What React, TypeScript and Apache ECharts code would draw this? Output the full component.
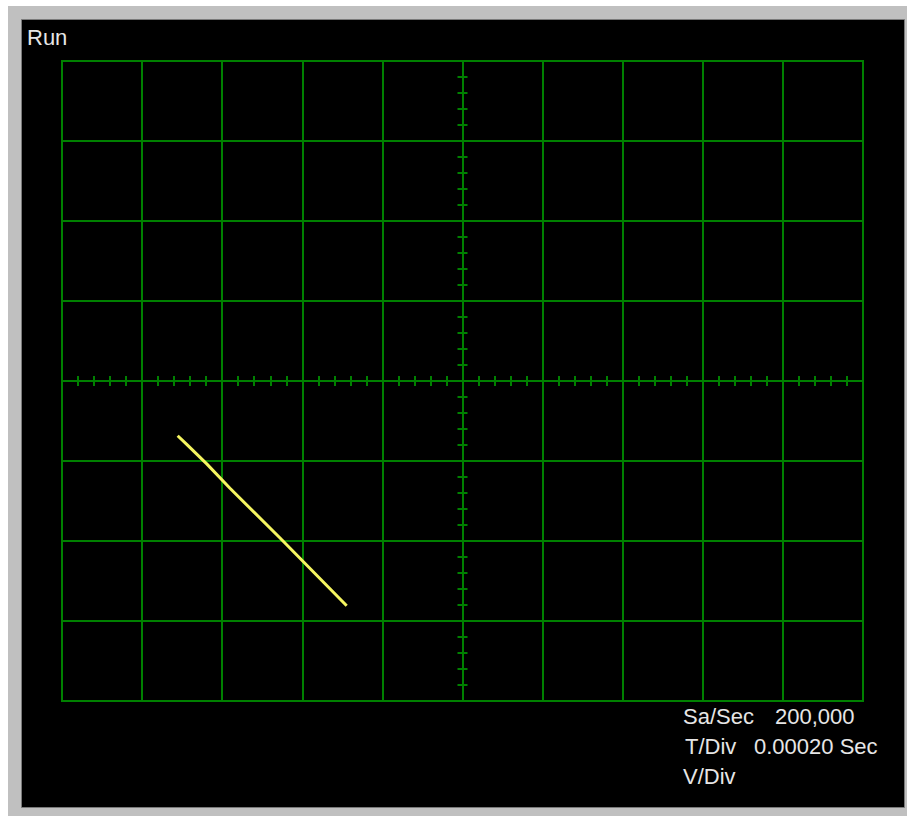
import React, { useEffect, useRef } from "react";
import * as echarts from "echarts";

// Trace samples (x in divisions from centre, y in divisions)
const traceX = [-3.556, -3.443, -3.193, -2.903, -2.278, -1.446];
const traceY = [-0.684, -0.792, -1.036, -1.341, -1.963, -2.809];

const statusLabel = "Run";
const infoLabels = ["Sa/Sec", "T/Div", "V/Div"];
const infoValues = ["200,000", "0.00020 Sec", ""];

const GREEN = "#008000";

export default function App() {
  const ref = useRef<HTMLDivElement>(null);
  useEffect(() => {
    if (!ref.current) return;
    const chart = echarts.init(ref.current, undefined, { renderer: "svg" });
    const axisCommon = (pos: string) => ({
      type: "value",
      min: pos === "left" || pos === "right" ? -4 : -5,
      max: pos === "left" || pos === "right" ? 4 : 5,
      interval: 1,
      position: pos,
      axisLine: { show: true, onZero: true, lineStyle: { color: GREEN, width: 2 } },
      axisTick: { show: true, inside: false, length: 5, lineStyle: { color: GREEN, width: 2 } },
      minorTick: { show: true, splitNumber: 5, length: 5, lineStyle: { color: GREEN, width: 2 } },
      axisLabel: { show: false },
      splitLine: { show: pos === "bottom" || pos === "left", lineStyle: { color: GREEN, width: 2 } },
      minorSplitLine: { show: false },
    });
    const infoGraphics: any[] = [];
    const rowsY = [716, 746, 776];
    const labelX = [683, 685, 683];
    const valueX = [775, 754, 775];
    infoLabels.forEach((l, i) => {
      infoGraphics.push({
        type: "text",
        x: labelX[i],
        y: rowsY[i],
        style: { text: l, fill: "#e6e6e6", font: "22px 'Liberation Sans', Arial, sans-serif", verticalAlign: "middle" },
      });
      if (infoValues[i]) {
        infoGraphics.push({
          type: "text",
          x: valueX[i],
          y: rowsY[i],
          style: { text: infoValues[i], fill: "#e6e6e6", font: "22px 'Liberation Sans', Arial, sans-serif", verticalAlign: "middle" },
        });
      }
    });
    chart.setOption({
      animation: false,
      backgroundColor: "#ffffff",
      graphic: [
        { type: "rect", z: -10, shape: { x: 8, y: 6, width: 899, height: 810 }, style: { fill: "#c0c0c0" }, silent: true },
        { type: "rect", z: -9, shape: { x: 21.5, y: 19.5, width: 883, height: 788 }, style: { fill: "#000000", stroke: "#7a7a7a", lineWidth: 1 }, silent: true },
        {
          type: "text",
          x: 27,
          y: 37.5,
          style: { text: statusLabel, fill: "#e6e6e6", font: "22px 'Liberation Sans', Arial, sans-serif", verticalAlign: "middle" },
        },
        ...infoGraphics,
      ],
      grid: {
        left: 62,
        top: 61,
        right: 44,
        bottom: 115,
        show: true,
        borderColor: GREEN,
        borderWidth: 2,
        backgroundColor: "transparent",
      },
      xAxis: [axisCommon("bottom"), axisCommon("top")],
      yAxis: [axisCommon("left"), axisCommon("right")],
      series: [
        {
          type: "line",
          xAxisIndex: 0,
          yAxisIndex: 0,
          data: traceX.map((x, i) => [x, traceY[i]]),
          symbol: "none",
          lineStyle: { color: "#f5f560", width: 3 },
          z: 10,
        },
      ],
    });
    return () => chart.dispose();
  }, []);
  return <div ref={ref} style={{ position: "fixed", left: 0, top: 0, width: 907, height: 816 }} />;
}
